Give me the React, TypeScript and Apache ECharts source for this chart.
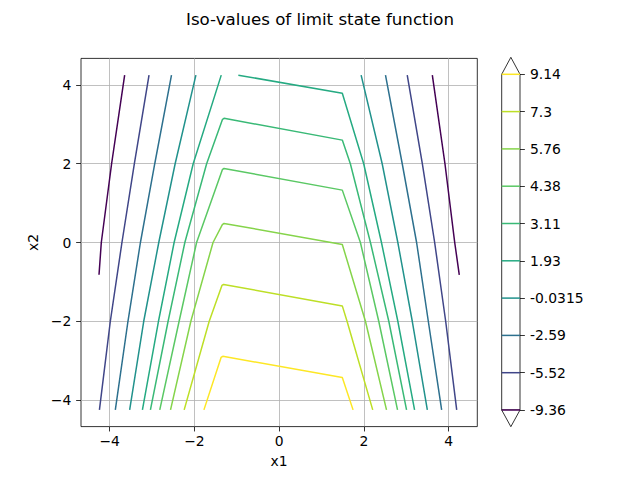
import React, { useEffect, useRef } from "react";
import * as echarts from "echarts";

const levels = [-9.36, -5.52, -2.59, -0.0315, 1.93, 3.11, 4.38, 5.76, 7.3, 9.14];
const levelLabels = ["-9.36", "-5.52", "-2.59", "-0.0315", "1.93", "3.11", "4.38", "5.76", "7.3", "9.14"];
const axisTickValues = [-4, -2, 0, 2, 4];

// contour pieces for each level, points are [x1, x2]
const isoM936 = [
  [[-4.25, -0.82], [-4.196, 0], [-3.953, 2], [-3.645, 4.25]],
  [[4.25, -0.82], [4.142, 0], [3.912, 2], [3.614, 4.25]],
];
const isoM552 = [
  [[-4.24, -4.25], [-3.983, -2], [-3.709, 0], [-3.416, 2], [-3.07, 4.25]],
  [[4.189, -4.25], [3.929, -2], [3.669, 0], [3.378, 2], [3.022, 4.25]],
];
const isoM259 = [
  [[-3.865, -4.25], [-3.567, -2], [-3.273, 0], [-2.935, 2], [-2.54, 4.25]],
  [[3.834, -4.25], [3.519, -2], [3.243, 0], [2.904, 2], [2.509, 4.25]],
];
const isoM003 = [
  [[-3.527, -4.25], [-3.195, -2], [-2.84, 0], [-2.454, 2], [-1.964, 4.25]],
  [[3.496, -4.25], [3.141, -2], [2.8, 0], [2.431, 2], [1.934, 4.25]],
];
const isoP193 = [
  [[-3.226, -4.25], [-2.847, -2], [-2.478, 0], [-2.028, 2], [-1.366, 4.25]],
  [[-0.963, 4.25], [1.49, 3.79], [1.995, 2], [2.414, 0], [2.8, -2], [3.195, -4.25]],
];
const isoP311 = [
  [[-3.037, -4.25], [-2.62, -2], [-2.225, 0], [-1.711, 2], [-1.34, 3.12], [-1.3, 3.155], [1.49, 2.6], [1.68, 2], [2.154, 0], [2.587, -2], [3.006, -4.25]],
];
const isoP438 = [
  [[-2.817, -4.25], [-2.36, -2], [-1.948, 0], [-1.34, 1.85], [-1.3, 1.882], [1.49, 1.33], [1.917, 0], [2.35, -2], [2.793, -4.25]],
];
const isoP576 = [
  [[-2.563, -4.25], [-2.083, -2], [-1.56, 0], [-1.34, 0.455], [-1.3, 0.485], [1.49, -0.05], [2.036, -2], [2.533, -4.25]],
];
const isoP730 = [
  [[-2.241, -4.25], [-1.65, -2], [-1.35, -1.09], [-1.31, -1.065], [1.49, -1.61], [1.602, -2], [2.208, -4.25]],
];
const isoP914 = [
  [[-1.775, -4.25], [-1.37, -2.92], [-1.33, -2.89], [1.49, -3.43], [1.744, -4.25]],
];
const isoLines = [isoM936, isoM552, isoM259, isoM003, isoP193, isoP311, isoP438, isoP576, isoP730, isoP914];

const viridisStops = [
  "#440154", "#471365", "#482475", "#463480", "#414487", "#3b528b", "#355f8d",
  "#2f6c8e", "#2a788e", "#25848e", "#21918c", "#1e9c89", "#22a884", "#2fb47c",
  "#44bf70", "#5ec962", "#7ad151", "#9bd93c", "#bddf26", "#dfe318", "#fde725",
];

function hexToRgb(h: string) {
  return [parseInt(h.slice(1, 3), 16), parseInt(h.slice(3, 5), 16), parseInt(h.slice(5, 7), 16)];
}
function viridis(t: number) {
  const n = viridisStops.length - 1;
  const p = Math.max(0, Math.min(1, t)) * n;
  const i = Math.min(n - 1, Math.floor(p));
  const f = p - i;
  const a = hexToRgb(viridisStops[i]);
  const b = hexToRgb(viridisStops[i + 1]);
  const c = a.map((v, k) => Math.round(v + (b[k] - v) * f));
  return `rgb(${c[0]},${c[1]},${c[2]})`;
}

const FONT = "DejaVu Sans";
const minus = (v: number) => String(v).replace("-", "\u2212");

export default function App() {
  const ref = useRef<HTMLDivElement>(null);
  useEffect(() => {
    if (!ref.current) return;
    const chart = echarts.init(ref.current, undefined, { renderer: "svg" });
    const lo = levels[0];
    const hi = levels[levels.length - 1];
    const colors = levels.map((v) => viridis((v - lo) / (hi - lo)));

    const series: any[] = [];
    isoLines.forEach((pieces, i) => {
      pieces.forEach((piece) => {
        series.push({
          type: "line",
          xAxisIndex: 0,
          yAxisIndex: 0,
          data: piece,
          showSymbol: false,
          symbol: "none",
          silent: true,
          lineStyle: { width: 1.5, color: colors[i] },
          z: 3,
        });
      });
    });
    levels.forEach((_, i) => {
      series.push({
        type: "line",
        xAxisIndex: 1,
        yAxisIndex: 1,
        data: [[0, i], [1, i]],
        showSymbol: false,
        symbol: "none",
        silent: true,
        clip: false,
        lineStyle: { width: 1.5, color: colors[i] },
        z: 3,
      });
    });

    const mainAxis = (name: string, isX: boolean) => ({
      type: "value",
      gridIndex: 0,
      min: -4.675,
      max: 4.675,
      name,
      nameLocation: "middle",
      nameGap: isX ? 27 : 31,
      nameTextStyle: { fontFamily: FONT, fontSize: 13.9, color: "#000" },
      axisLine: { show: false, onZero: false },
      axisTick: {
        show: true,
        length: 4.86,
        inside: false,
        lineStyle: { color: "#000", width: 0.8 },
        customValues: axisTickValues,
      },
      axisLabel: {
        show: true,
        margin: isX ? 7 : 9.7,
        fontFamily: FONT,
        fontSize: 13.9,
        color: "#000",
        customValues: axisTickValues,
        formatter: (v: number) => minus(v),
      },
      splitLine: { show: true, lineStyle: { color: "#b0b0b0", width: 0.8 } },
    });

    const triTop = [[501.7, 74.3], [510.85, 57.3], [520, 74.3]];
    const triBot = [[501.7, 410], [510.85, 426.7], [520, 410]];

    chart.setOption({
      animation: false,
      backgroundColor: "#fff",
      title: {
        text: "Iso-values of limit state function",
        left: "center",
        top: 6,
        textStyle: { fontFamily: FONT, fontSize: 16.67, fontWeight: "normal", color: "#000" },
      },
      grid: [
        { left: 81, top: 58.4, width: 396.3, height: 368.2, show: true, borderColor: "#000", borderWidth: 0.8, backgroundColor: "transparent" },
        { left: 501.7, top: 74.3, width: 18.3, height: 335.7, show: true, borderColor: "#000", borderWidth: 0.8, backgroundColor: "transparent" },
      ],
      xAxis: [
        mainAxis("x1", true),
        { type: "value", gridIndex: 1, min: 0, max: 1, show: false },
      ],
      yAxis: [
        mainAxis("x2", false),
        {
          type: "value",
          gridIndex: 1,
          min: 0,
          max: levelLabels.length - 1,
          interval: 1,
          position: "right",
          axisLine: { show: false, onZero: false },
          axisTick: { show: true, length: 4.86, inside: false, lineStyle: { color: "#000", width: 0.8 } },
          axisLabel: {
            margin: 10,
            fontFamily: FONT,
            fontSize: 13.9,
            color: "#000",
            formatter: (v: number) => levelLabels[Math.round(v)] ?? "",
          },
          splitLine: { show: false },
        },
      ],
      graphic: [
        { type: "polygon", shape: { points: triTop }, style: { fill: "#fff", stroke: "none" }, z: 1 },
        { type: "polyline", shape: { points: triTop }, style: { fill: "none", stroke: "#000", lineWidth: 0.8 }, z: 1 },
        { type: "polygon", shape: { points: triBot }, style: { fill: "#fff", stroke: "none" }, z: 1 },
        { type: "polyline", shape: { points: triBot }, style: { fill: "none", stroke: "#000", lineWidth: 0.8 }, z: 1 },
      ],
      series,
    });
    return () => chart.dispose();
  }, []);
  return (
    <div
      ref={ref}
      style={{ position: "fixed", left: 0, top: 0, width: 640, height: 480, background: "#fff" }}
    />
  );
}
